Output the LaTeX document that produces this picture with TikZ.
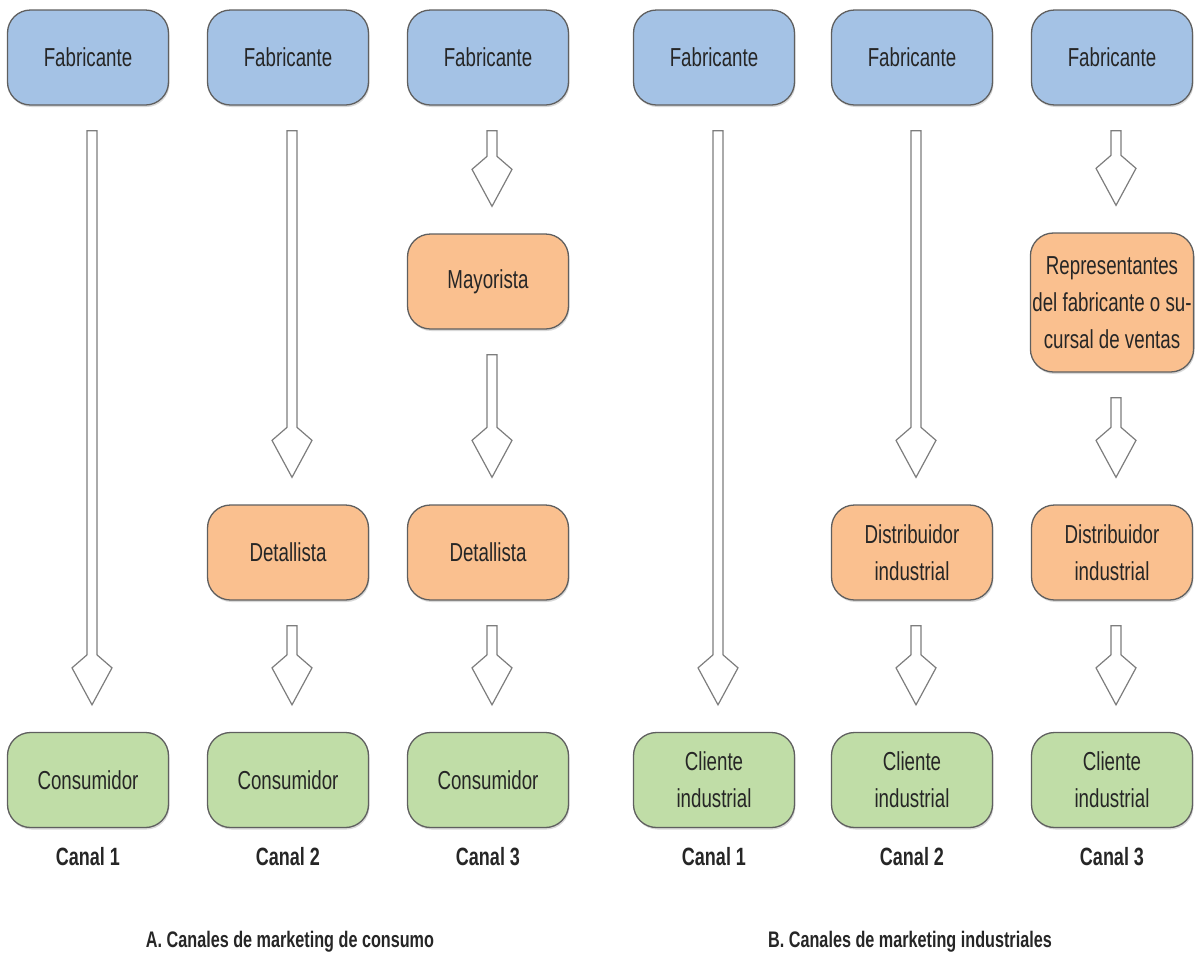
\documentclass[tikz,border=0pt]{standalone}
\usepackage{fontspec}
\setmainfont[FakeStretch=0.72]{Liberation Sans}
\usetikzlibrary{calc,shadows}

\definecolor{makerfill}{RGB}{164,194,229}
\definecolor{midfill}{RGB}{250,192,143}
\definecolor{endfill}{RGB}{192,221,167}
\definecolor{boxline}{RGB}{95,95,95}
\definecolor{arrowline}{RGB}{125,125,125}
\definecolor{txt}{RGB}{38,38,38}

\tikzset{
  stagebox/.style={draw=boxline, line width=1.3pt, rounded corners=23pt,
    minimum width=161pt, minimum height=95pt, align=center, text=txt,
    inner sep=2pt, font=\fontsize{26}{37}\selectfont,
    drop shadow={shadow xshift=1pt, shadow yshift=-2pt, opacity=0.3}},
  maker/.style={stagebox, fill=makerfill},
  middle/.style={stagebox, fill=midfill},
  buyer/.style={stagebox, fill=endfill},
  canal/.style={text=txt, font=\fontsize{25}{30}\selectfont\bfseries},
  grouptitle/.style={text=txt, font=\fontsize{22.5}{27}\selectfont\bfseries},
  % hollow block arrow running from the bottom of one box to the top of the next
  flow/.style={draw=arrowline, line width=1.2pt, fill=white, line join=miter,
    to path={let \p1=(\tikztostart), \p2=(\tikztotarget) in
      ({\x1-1pt},{\y1-25pt}) -- ({\x1+9pt},{\y1-25pt})
      -- ({\x1+9pt},{\y2+77pt}) -- ({\x1+24pt},{\y2+64pt})
      -- ({\x1+4pt},{\y2+27pt}) -- ({\x1-16pt},{\y2+64pt})
      -- ({\x1-1pt},{\y2+77pt}) -- cycle}}
}

\begin{document}
\begin{tikzpicture}[x=1pt,y=-1pt]
\useasboundingbox (0,0) rectangle (1200,962);

% --- A. consumer channels ---
\node[maker] (a1f) at (88,57.5) {Fabricante};
\node[maker] (a2f) at (288,57.5) {Fabricante};
\node[maker] (a3f) at (488,57.5) {Fabricante};

\node[middle] (a3m) at (488,281.5) {Mayorista};
\node[middle] (a2d) at (288,552.5) {Detallista};
\node[middle] (a3d) at (488,552.5) {Detallista};

\node[buyer] (a1c) at (88,780) {Consumidor};
\node[buyer] (a2c) at (288,780) {Consumidor};
\node[buyer] (a3c) at (488,780) {Consumidor};

\node[canal] (a1l) at (88,857) {Canal 1};
\node[canal] (a2l) at (288,857) {Canal 2};
\node[canal] (a3l) at (488,857) {Canal 3};

\draw[flow] (a1f.south) to (a1c.north);
\draw[flow] (a2f.south) to (a2d.north);
\draw[flow] (a2d.south) to (a2c.north);
\draw[flow] (a3f.south) to (a3m.north);
\draw[flow] (a3m.south) to (a3d.north);
\draw[flow] (a3d.south) to (a3c.north);

% --- B. industrial channels ---
\node[maker] (b1f) at (714,57.5) {Fabricante};
\node[maker] (b2f) at (912,57.5) {Fabricante};
\node[maker] (b3f) at (1112,57.5) {Fabricante};

\node[middle, minimum height=139pt] (b3r) at (1112,302.5)
  {Representantes\\del fabricante o su-\\cursal de ventas};
\node[middle] (b2d) at (912,552.5) {Distribuidor\\industrial};
\node[middle] (b3d) at (1112,552.5) {Distribuidor\\industrial};

\node[buyer] (b1c) at (714,780) {Cliente\\industrial};
\node[buyer] (b2c) at (912,780) {Cliente\\industrial};
\node[buyer] (b3c) at (1112,780) {Cliente\\industrial};

\node[canal] (b1l) at (714,857) {Canal 1};
\node[canal] (b2l) at (912,857) {Canal 2};
\node[canal] (b3l) at (1112,857) {Canal 3};

\draw[flow] (b1f.south) to (b1c.north);
\draw[flow] (b2f.south) to (b2d.north);
\draw[flow] (b2d.south) to (b2c.north);
\draw[flow] (b3f.south) to (b3r.north);
\draw[flow] (b3r.south) to (b3d.north);
\draw[flow] (b3d.south) to (b3c.north);

% group captions
\node[grouptitle] (ta) at (290,942) {A. Canales de marketing de consumo};
\node[grouptitle] (tb) at (910,942) {B. Canales de marketing industriales};
\end{tikzpicture}
\end{document}
